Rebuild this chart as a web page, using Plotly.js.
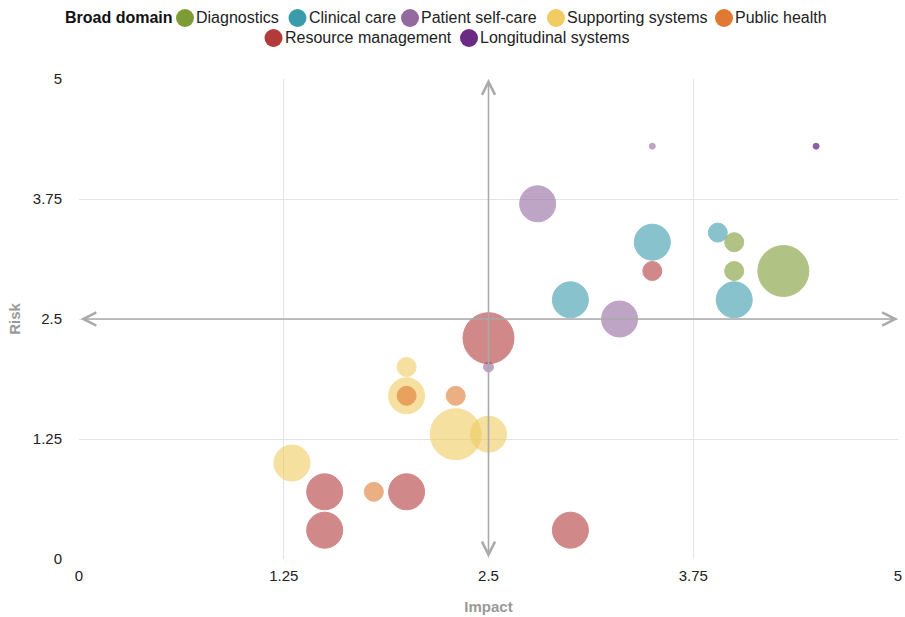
<!DOCTYPE html>
<html>
<head>
<meta charset="utf-8">
<script src="https://cdn.plot.ly/plotly-3.0.1.min.js"></script>
<style>html,body{margin:0;padding:0;background:#fff;}#chart{width:905px;height:617px;}</style>
</head>
<body>
<div id="chart"></div>
<script>
// ---- data ----
const legendTitle = "Broad domain";
const domains = ["Diagnostics","Clinical care","Patient self-care","Supporting systems","Public health","Resource management","Longitudinal systems"];

const diagImpact = [4.3, 4.0, 4.0];
const diagRisk   = [3.0, 3.3, 3.0];
const diagWeight = [4, 2, 2];

const clinImpact = [3.5, 3.9, 4.0, 3.0];
const clinRisk   = [3.3, 3.4, 2.7, 2.7];
const clinWeight = [3, 2, 3, 3];

const selfImpact = [2.8, 3.3, 3.5, 2.5];
const selfRisk   = [3.7, 2.5, 4.3, 2.0];
const selfWeight = [3, 3, 1, 1.5];

const suppImpact = [2.0, 2.0, 2.3, 2.5, 1.3];
const suppRisk   = [2.0, 1.7, 1.3, 1.3, 1.0];
const suppWeight = [2, 3, 4, 3, 3];

const pubImpact = [2.0, 2.3, 1.8];
const pubRisk   = [1.7, 1.7, 0.7];
const pubWeight = [2, 2, 2];

const resImpact = [2.5, 3.5, 1.5, 1.5, 2.0, 3.0];
const resRisk   = [2.3, 3.0, 0.7, 0.3, 0.7, 0.3];
const resWeight = [4, 2, 3, 3, 3, 3];

const longImpact = [4.5];
const longRisk   = [4.3];
const longWeight = [1];

const tickVals = [0, 1.25, 2.5, 3.75, 5];
const tickText = ["0", "1.25", "2.5", "3.75", "5"];

// ---- styling ----
const colors = ["#7d9c35", "#3a9bab", "#94699f", "#f0cc62", "#e07a32", "#b33a3a", "#6b2a84"];
const diam = {1: 6, 1.5: 10, 2: 19, 3: 36, 4: 51};
const series = [
  [diagImpact, diagRisk, diagWeight],
  [clinImpact, clinRisk, clinWeight],
  [selfImpact, selfRisk, selfWeight],
  [suppImpact, suppRisk, suppWeight],
  [pubImpact, pubRisk, pubWeight],
  [resImpact, resRisk, resWeight],
  [longImpact, longRisk, longWeight]
];

const traces = series.map((s, i) => ({
  type: "scatter", mode: "markers", x: s[0], y: s[1], name: domains[i],
  showlegend: false, hoverinfo: "x+y+name",
  marker: {size: s[2].map(w => diam[w]), color: colors[i], opacity: i === 6 ? 0.75 : 0.6,
           line: {color: colors[i], width: 1}}
}));

const fontFam = "'Liberation Sans', Arial, sans-serif";

// plot area geometry (px) used to place the hand-built legend
const M = {l: 79, r: 7, t: 79, b: 58};
const W = 905, H = 617;
const pw = W - M.l - M.r, ph = H - M.t - M.b;
const px2x = p => (p - M.l) / pw;
const py2y = p => (H - M.b - p) / ph;

// legend layout (style): marker centres per entry, row y
const legMarkX = [185, 297.5, 410, 556, 724, 273.5, 469];
const legRowY = [18, 18, 18, 18, 18, 38, 38];
const legTitleX = 65;

const shapes = [];
const annotations = [];
annotations.push({xref: "paper", yref: "paper", x: px2x(legTitleX - 2), y: py2y(18),
  xanchor: "left", yanchor: "middle", showarrow: false, text: "<b>" + legendTitle + "</b>",
  font: {family: fontFam, size: 16, color: "#111"}});
domains.forEach((d, i) => {
  const cx = px2x(legMarkX[i]), cy = py2y(legRowY[i]);
  shapes.push({type: "circle", xref: "paper", yref: "paper", xsizemode: "pixel", ysizemode: "pixel",
    xanchor: cx, yanchor: cy, x0: -9, x1: 9, y0: -9, y1: 9,
    fillcolor: colors[i], line: {width: 0}, layer: "above"});
  annotations.push({xref: "paper", yref: "paper", x: px2x(legMarkX[i] + 9), y: cy,
    xanchor: "left", yanchor: "middle", showarrow: false, text: d,
    font: {family: fontFam, size: 16, color: "#222"}});
});

const arrowStyle = {showarrow: true, arrowhead: 5, arrowside: "end+start", arrowsize: 1.6,
  arrowwidth: 1.6, arrowcolor: "#aaaaaa", text: "", axref: "x", ayref: "y", xref: "x", yref: "y"};
annotations.push(Object.assign({}, arrowStyle, {x: 2.5, y: 5, ax: 2.5, ay: 0}));
annotations.push(Object.assign({}, arrowStyle, {x: 5, y: 2.5, ax: 0, ay: 2.5}));

const layout = {
  width: W, height: H,
  margin: M,
  paper_bgcolor: "#fff", plot_bgcolor: "#fff",
  font: {family: fontFam, size: 15, color: "#222"},
  showlegend: false,
  xaxis: {
    range: [0, 5], tickvals: tickVals, ticktext: tickText, showgrid: true, gridcolor: "#e3e3e3",
    gridwidth: 1, zeroline: false, showline: false, ticks: "", ticklabelstandoff: 6,
    tickfont: {family: fontFam, size: 15, color: "#222"},
    title: {text: "<b>Impact</b>", font: {family: fontFam, size: 15, color: "#999"}, standoff: 18}
  },
  yaxis: {
    range: [0, 5], tickvals: tickVals, ticktext: tickText, showgrid: true, gridcolor: "#e3e3e3",
    gridwidth: 1, zeroline: false, showline: false, ticks: "", ticklabelstandoff: 16,
    tickfont: {family: fontFam, size: 15, color: "#222"},
    title: {text: "<b>Risk</b>", font: {family: fontFam, size: 15, color: "#999"}, standoff: 8}
  },
  shapes: shapes,
  annotations: annotations
};

Plotly.newPlot("chart", traces, layout, {displayModeBar: false, responsive: false});
</script>
</body>
</html>
